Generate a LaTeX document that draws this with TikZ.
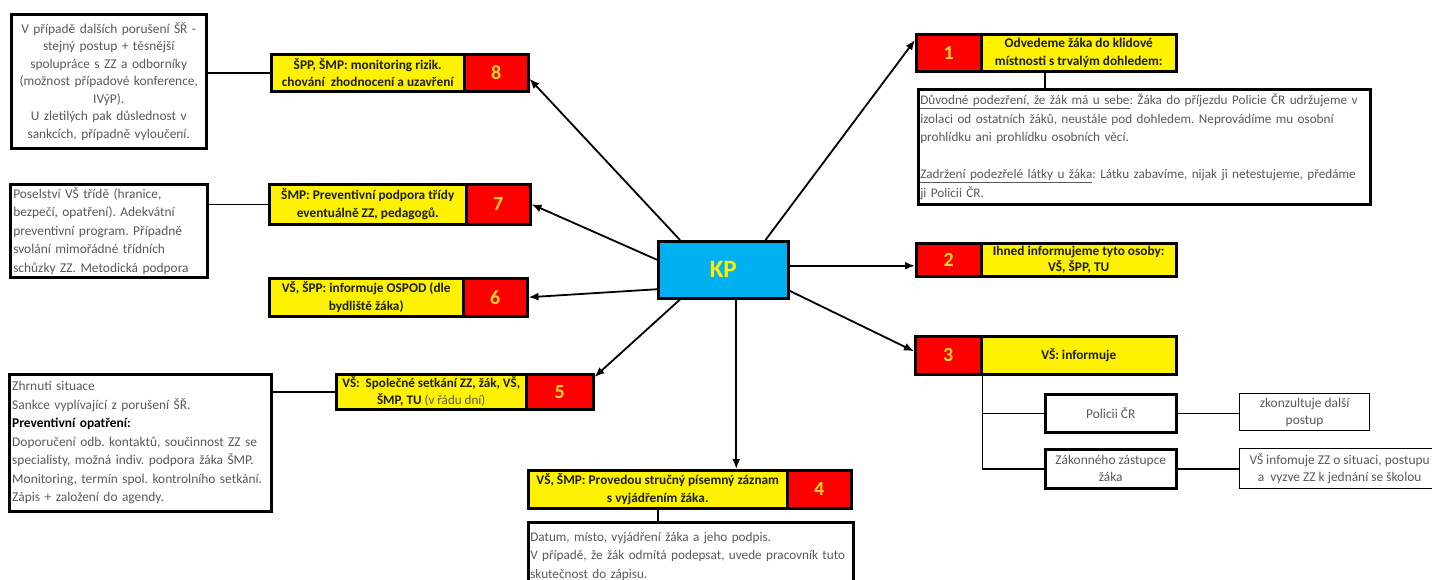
\documentclass[tikz,border=0pt]{standalone}
\usepackage{fontspec}
\setmainfont{Carlito}
\frenchspacing
\usetikzlibrary{arrows.meta,calc}
\definecolor{kpblue}{RGB}{0,176,240}
\definecolor{numyel}{RGB}{255,214,40}
\definecolor{txtgray}{RGB}{89,89,89}
\definecolor{hdr}{RGB}{30,30,0}
\tikzset{
  hbox/.style={draw=black, line width=2.5pt, fill=yellow, inner sep=1pt, align=center,
    font=\bfseries\fontsize{13.3}{17.5}\selectfont, text=hdr, anchor=north west},
  nbox/.style={draw=black, line width=2.5pt, fill=red, inner sep=0pt,
    font=\bfseries\fontsize{20}{22}\selectfont, text=numyel, anchor=north west},
  wbox/.style={draw=black, line width=2.5pt, fill=white, inner xsep=3pt, inner ysep=2pt,
    font=\fontsize{13.4}{18.5}\selectfont, text=txtgray, anchor=north west},
  thinbox/.style={wbox, line width=1.2pt},
  arr/.style={line width=1.8pt, -{Latex[length=10pt,width=8pt]}},
  conn/.style={line width=1.5pt},
}
\begin{document}
\begin{tikzpicture}[x=1pt,y=-1pt]
\clip (0,0) rectangle (1432,579);
\fill[white] (0,0) rectangle (1432,579);

% central node
\node[draw=black, line width=2.5pt, fill=kpblue, anchor=north west, minimum width=130pt,
  minimum height=57pt, inner sep=0pt, text=yellow, font=\bfseries\fontsize{25}{28}\selectfont]
  (kp) at (657,240) {KP};

% box 8
\node[hbox, minimum width=193pt, minimum height=37pt] (y8) at (270,53)
  {ŠPP, ŠMP: monitoring rizik.\\ chování~~zhodnocení a uzavření};
\node[nbox, minimum width=64pt, minimum height=37pt] (r8) at (463,53) {8};
\node[wbox, minimum width=195pt, minimum height=134pt, text width=189pt, align=center,
  font=\fontsize{13.4}{17.5}\selectfont] (tl) at (10,13)
  {V případě dalších porušení ŠŘ -\\ stejný postup + těsnější\\ spolupráce s ZZ a odborníky\\
   (možnost případové konference,\\ IVýP).\\ U zletilých pak důslednost v\\ sankcích, případně vyloučení.};

% box 7
\node[hbox, minimum width=197pt, minimum height=40pt] (y7) at (268,183)
  {ŠMP: Preventivní podpora třídy\\ eventuálně ZZ, pedagogů.};
\node[nbox, minimum width=64pt, minimum height=40pt] (r7) at (465,183) {7};
\node[wbox, minimum width=197pt, minimum height=93pt, text width=191pt, align=left] (t7) at (9,183)
  {Poselství VŠ třídě (hranice,\\ bezpečí, opatření). Adekvátní\\ preventivní program. Případně\\
   svolání mimořádné třídních\\ schůzky ZZ. Metodická podpora};

% box 6
\node[hbox, minimum width=194pt, minimum height=38pt] (y6) at (268,277)
  {VŠ, ŠPP: informuje OSPOD (dle\\ bydliště žáka)};
\node[nbox, minimum width=64pt, minimum height=38pt] (r6) at (462,277) {6};

% box 5
\node[hbox, minimum width=190pt, minimum height=35pt, font=\bfseries\fontsize{13.1}{17}\selectfont]
  (y5) at (335,373)
  {VŠ:~~Společné setkání ZZ, žák, VŠ,\\ ŠMP, TU {\mdseries\color{txtgray}(v řádu dní)}};
\node[nbox, minimum width=67pt, minimum height=35pt] (r5) at (525,373) {5};
\node[wbox, minimum width=262pt, minimum height=137pt, text width=256pt, align=left] (t5) at (8,373)
  {Zhrnutí situace\\ Sankce vyplívající z porušení ŠŘ.\\ {\bfseries\color{black}Preventivní opatření:}\\
   Doporučení odb. kontaktů, součinnost ZZ se\\ specialisty, možná indiv. podpora žáka ŠMP.\\
   Monitoring, termín spol. kontrolního setkání.\\ Zápis + založení do agendy.};

% box 4
\node[hbox, minimum width=259pt, minimum height=38pt] (y4) at (527,469)
  {VŠ, ŠMP: Provedou stručný písemný záznam\\ s vyjádřením žáka.};
\node[nbox, minimum width=64pt, minimum height=38pt] (r4) at (786,469) {4};
\node[wbox, minimum width=325pt, minimum height=68pt, text width=321pt, inner xsep=2pt, align=left,
  font=\fontsize{13.2}{18.5}\selectfont] (t4) at (527,521)
  {Datum, místo, vyjádření žáka a jeho podpis.\\ V případě, že žák odmítá podepsat, uvede pracovník tuto\\
   skutečnost do zápisu.};

% box 1
\node[nbox, minimum width=65pt, minimum height=37pt] (r1) at (915,33) {1};
\node[hbox, minimum width=195pt, minimum height=37pt] (y1) at (980,33)
  {Odvedeme žáka do klidové\\ místnosti s trvalým dohledem:};
\node[wbox, minimum width=452pt, minimum height=115pt, text width=448pt, inner xsep=2pt, align=left,
  font=\fontsize{13.2}{18.5}\selectfont] (t1) at (917,88)
  {\underline{Důvodné podezření, že žák má u sebe}: Žáka do příjezdu Policie ČR udržujeme v\\
   izolaci od ostatních žáků, neustále pod dohledem. Neprovádíme mu osobní\\
   prohlídku ani prohlídku osobních věcí.\\ ~\\
   \underline{Zadržení podezřelé látky u žáka}: Látku zabavíme, nijak ji netestujeme, předáme\\
   ji Policii ČR.};

% box 2
\node[nbox, minimum width=65pt, minimum height=33pt] (r2) at (915,242) {2};
\node[hbox, minimum width=195pt, minimum height=33pt, font=\bfseries\fontsize{13.3}{16}\selectfont]
  (y2) at (980,242) {Ihned informujeme tyto osoby:\\ VŠ, ŠPP, TU};

% box 3
\node[nbox, minimum width=66pt, minimum height=38pt] (r3) at (914,335) {3};
\node[hbox, minimum width=195pt, minimum height=38pt] (y3) at (980,335) {VŠ: informuje};
\node[wbox, minimum width=131pt, minimum height=38pt, align=center] (pol) at (1044,393) {Policii ČR};
\node[wbox, minimum width=131pt, minimum height=39pt, align=center, font=\fontsize{13.4}{17}\selectfont]
  (zak) at (1044,448) {Zákonného zástupce\\ žáka};
\node[thinbox, minimum width=130pt, minimum height=37pt, align=center, font=\fontsize{13.4}{17}\selectfont]
  (zk) at (1239,393) {zkonzultuje další\\ postup};
\node[thinbox, minimum width=200pt, minimum height=40pt, align=center, font=\fontsize{13.4}{17}\selectfont]
  (vs) at (1239,448) {VŠ infomuje ZZ o situaci, postupu\\ a~~vyzve ZZ k jednání se školou};

% plain connectors
\draw[conn] (y8.west) -- (y8.west -| tl.east);
\draw[conn] (y7.west) -- (y7.west -| t7.east);
\draw[conn] (y5.west) -- (y5.west -| t5.east);
\coordinate (c1) at (1045,0);
\draw[conn] (y1.south -| c1) -- (t1.north -| c1);
\draw[conn] (y4.south) -- (t4.north -| y4.south);
\draw[conn] (r3.south east) |- (pol.west);
\draw[conn] (r3.south east) |- (zak.west);
\draw[conn] (pol.east) -- (pol.east -| zk.west);
\draw[conn] (zak.east) -- (zak.east -| vs.west);

% arrows from KP
\draw[arr] ([xshift=-24pt]kp.north east) -- ([yshift=-7pt]r1.north west);
\draw[arr] ([yshift=4pt]kp.east) -- ([yshift=4pt]kp.east -| r2.west);
\draw[arr] ([yshift=-21pt]kp.east) -- ([yshift=4pt]r3.west);
\draw[arr] ([xshift=13pt]kp.south) -- ([xshift=13pt]kp.south |- y4.north);
\draw[arr] ([xshift=23pt]kp.south west) -- ([yshift=-4pt]r5.north east);
\draw[arr] ([yshift=-19.5pt]kp.west) -- (r6.east);
\draw[arr] ([yshift=10pt]kp.west) -- (r7.east);
\draw[arr] ([xshift=23pt]kp.north west) -- ([yshift=-6pt]r8.east);
\end{tikzpicture}
\end{document}
